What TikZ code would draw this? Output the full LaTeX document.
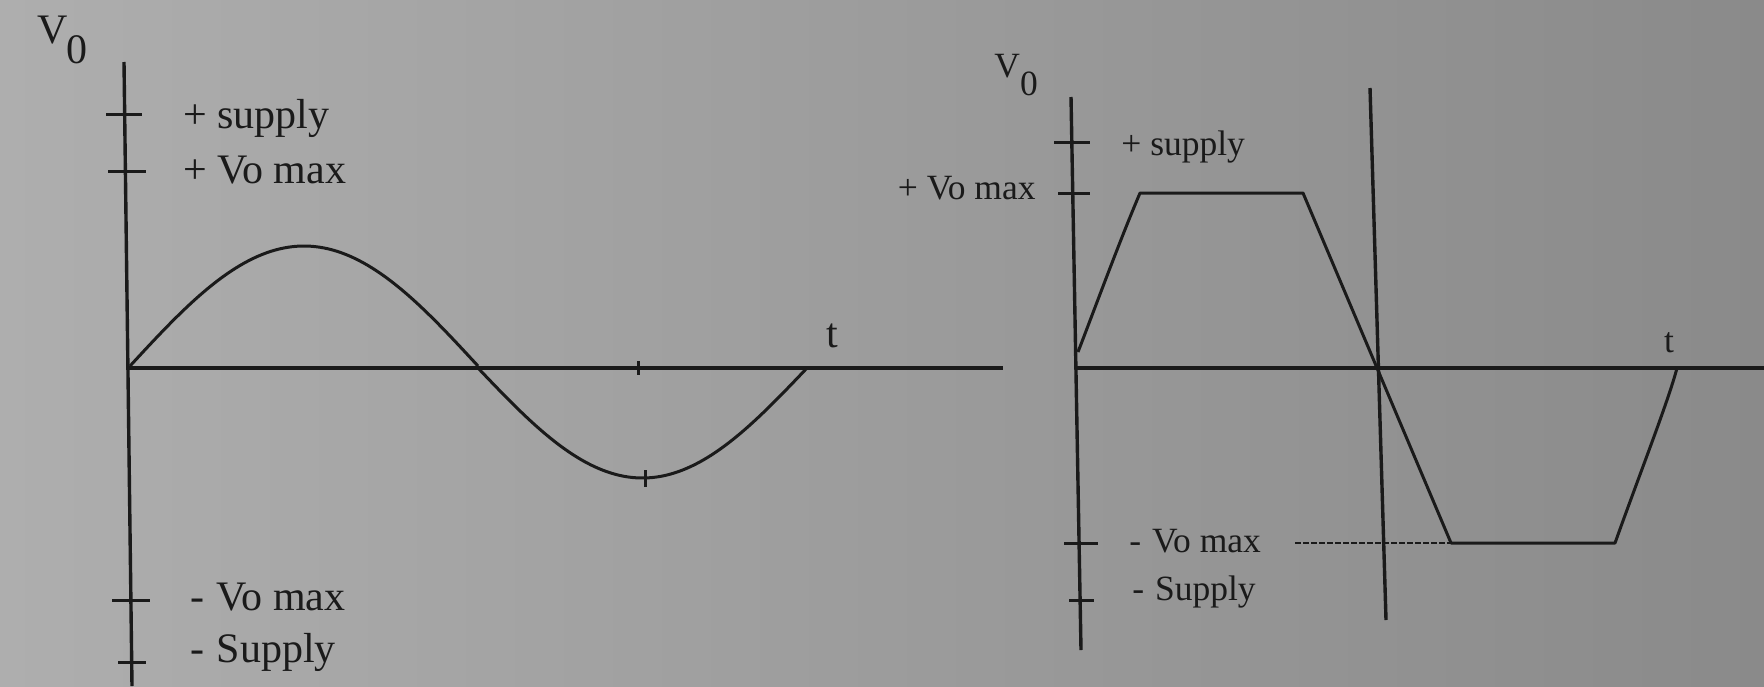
\documentclass[tikz,border=0pt]{standalone}
\usepackage{fontspec}
\setmainfont{Liberation Serif}
\definecolor{ink}{RGB}{26,26,26}
\definecolor{bgA}{RGB}{174,174,174}
\definecolor{bgB}{RGB}{164,164,164}
\definecolor{bgC}{RGB}{138,138,138}
\begin{document}
\begin{tikzpicture}[x=0.5pt,y=-0.5pt,
  axis/.style={draw=ink, line width=1.7pt},
  curve/.style={draw=ink, line width=1.5pt, line join=round},
  tickmark/.style={draw=ink, line width=1.5pt},
  lblL/.style={text=ink, inner sep=0pt, font=\fontsize{21}{25}\selectfont, anchor=base west},
  lblR/.style={text=ink, inner sep=0pt, font=\fontsize{17.75}{21}\selectfont, anchor=base west},
]
\shade[left color=bgA, middle color=bgB, right color=bgC] (0,0) rectangle (1764,686);
\useasboundingbox (0,0) rectangle (1764,686);

% ---------- left graph ----------
\coordinate (LYt) at (124,62);
\coordinate (LYb) at (132,686);
\coordinate (LO) at (129,368);
\coordinate (LXe) at (1003,368);
\draw[axis] (LYt) -- (LYb);
\draw[axis] (LO) -- (LXe);

\draw[tickmark] (106,114) -- (142,114);
\draw[tickmark] (108,171) -- (146,171);
\draw[tickmark] (112,600) -- (150,600);
\draw[tickmark] (118,662) -- (146,662);

\node[lblL] (LV0) at (37,43) {V\kern-0.5pt\raisebox{-10pt}{0}};
\node[lblL] (Lsup) at (183,128) {+ supply};
\node[lblL] (Lvmax) at (183,183) {+ Vo max};
\node[lblL] (Lnvmax) at (190,610) {-\kern1pt{} Vo max};
\node[lblL] (Lnsup) at (190,662) {-\kern1pt{} Supply};
\node[lblL, anchor=base] (Lt) at (832,347) {t};

\draw[curve] plot[domain=0:180, samples=80] ({130+1.93333*\x},{366-120*sin(\x)});
\draw[curve] plot[domain=0:180, samples=80] ({478+1.82778*\x},{368+110*sin(\x)});
\draw[tickmark] (638,361) -- (638,375);
\draw[tickmark] (645,470) -- (645,487);

% ---------- right graph ----------
\coordinate (RYt) at (1071,97);
\coordinate (RYb) at (1081,650);
\coordinate (RO) at (1077,368);
\coordinate (RXe) at (1764,368);
\coordinate (RVt) at (1370,88);
\coordinate (RVb) at (1386,620);
\draw[axis] (RYt) -- (RYb);
\draw[axis] (RO) -- (RXe);
\draw[axis] (RVt) -- (RVb);

\draw[tickmark] (1054,142) -- (1090,142);
\draw[tickmark] (1058,193) -- (1090,193);
\draw[tickmark] (1064,543) -- (1098,543);
\draw[tickmark] (1069,600) -- (1094,600);

\node[lblR] (RV0) at (994,77) {V\raisebox{-9pt}{0}};
\node[lblR] (Rsup) at (1121,155) {+ supply};
\node[lblR, anchor=base east] (Rvmax) at (1036,199) {+ Vo max};
\node[lblR] (Rnvmax) at (1129,552) {-\kern1pt{} Vo max};
\node[lblR] (Rnsup) at (1132,600) {-\kern1pt{} Supply};
\node[lblR, anchor=base] (Rt) at (1669,352) {t};

\coordinate (T1) at (1078,352);
\coordinate (T2) at (1140,193);
\coordinate (T3) at (1303,193);
\coordinate (T4) at (1451,543);
\coordinate (T5) at (1615,543);
\coordinate (T6) at (1677,368);
\draw[curve] (T1) .. controls (1098,300) and (1120,240) .. (T2) -- (T3) -- (T4) -- (T5)
  .. controls (1640,473) and (1668,402) .. (T6);
\coordinate (D0) at (1295,543);
\draw[draw=ink, line width=1.4pt, dash pattern=on 3pt off 1pt] (D0) -- (T4);
\end{tikzpicture}
\end{document}
